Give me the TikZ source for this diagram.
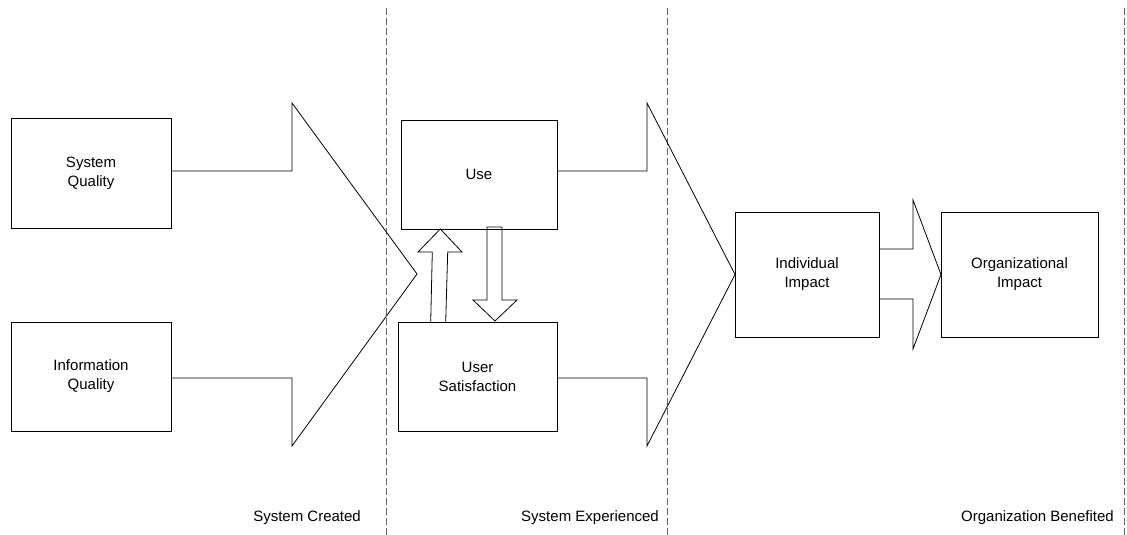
\documentclass[tikz,border=0pt]{standalone}
\usepackage{fontspec}
\setmainfont{Liberation Sans}
\begin{document}
\begin{tikzpicture}[x=1pt,y=-1pt,
  box/.style={draw=black,line width=0.8pt,fill=white,inner sep=0pt,outer sep=0pt,
    align=center,font=\fontsize{15}{19}\selectfont},
  blockarrow/.style={draw=black,line width=0.8pt,line join=miter},
  divider/.style={draw=black!60,line width=1pt,dash pattern=on 6.7pt off 3.3pt},
  phase/.style={inner sep=0pt,font=\fontsize{15}{19}\selectfont,anchor=base east}]
\useasboundingbox (0,0) rectangle (1127,535);

% phase dividers
\draw[divider] (386,8) -- (386,535);
\draw[divider] (667,8) -- (667,535);
\draw[divider] (1124,8) -- (1124,535);

% boxes
\node[box,minimum width=160pt,minimum height=110pt] (sq) at (91,173) {System\\Quality};
\node[box,minimum width=160pt,minimum height=109pt] (iq) at (91,376.5) {Information\\Quality};
\node[box,minimum width=156pt,minimum height=109pt] (use) at (479,174.5) {Use};
\node[box,minimum width=159pt,minimum height=109pt] (us) at (477.5,376.5) {User\\Satisfaction};
\node[box,minimum width=144pt,minimum height=125pt] (ii) at (807,274.5) {Individual\\Impact};
\node[box,minimum width=157pt,minimum height=125pt] (oi) at (1019.5,274.5) {Organizational\\Impact};

% block arrow: quality boxes into the experience stage
\draw[blockarrow] (sq.east |- 0,171) -- (292,171) -- (292,103) -- (417,274)
  -- (292,446) -- (292,378) -- (iq.east |- 0,378);

% block arrow: experience stage into individual impact
\draw[blockarrow] (use.east |- 0,171) -- (647,171) -- (647,103) -- (ii.west)
  -- (647,446) -- (647,378) -- (us.east |- 0,378);

% block arrow: individual impact into organizational impact
\draw[blockarrow] (ii.east |- 0,249) -- (913,249) -- (913,200) -- (oi.west)
  -- (913,349) -- (913,299) -- (ii.east |- 0,299);

% use <-> user satisfaction
\draw[blockarrow] (430.7,322) -- (432.3,252) -- (418,252) -- (440.3,229)
  -- (462,252) -- (447.7,252) -- (445.7,322);
\draw[blockarrow] (487,227) -- (487,300) -- (473,300) -- (495,321) -- (517,300)
  -- (502,300) -- (502,227) -- cycle;

% phase labels
\node[phase] (created) at (361,521) {System Created};
\node[phase] (experienced) at (659,521) {System Experienced};
\node[phase] (benefited) at (1114,521) {Organization Benefited};
\end{tikzpicture}
\end{document}
